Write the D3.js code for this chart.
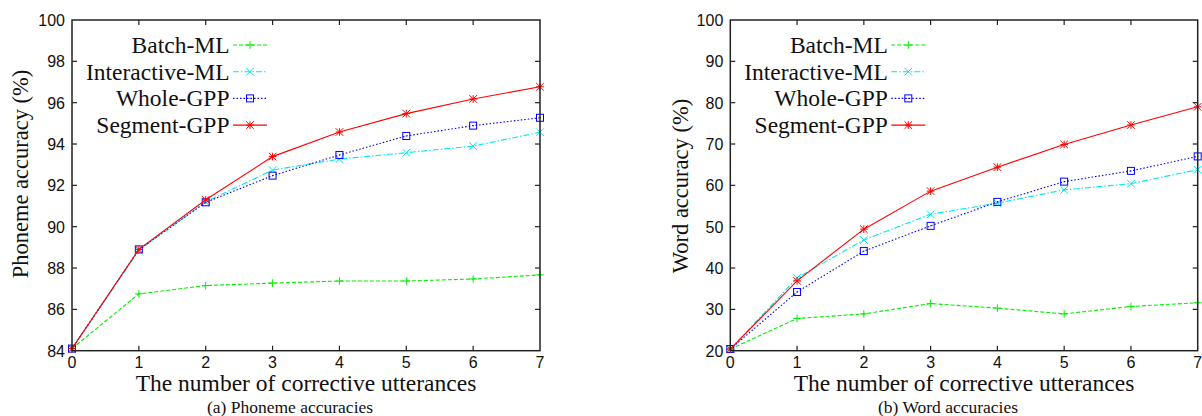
<!doctype html>
<html>
<head>
<meta charset="utf-8">
<script src="https://cdn.jsdelivr.net/npm/d3@7"></script>
<style>
  body { margin: 0; background: #fff; }
  svg { display: block; }
  .tick-label { font-family: "Liberation Sans", Arial, sans-serif; font-size: 16px; fill: #111; }
  .serif { font-family: "Liberation Serif", "Times New Roman", serif; fill: #111; }
</style>
</head>
<body>
<div id="container"></div>
<script>
// categories (number of corrective utterances)
var steps = [0, 1, 2, 3, 4, 5, 6, 7];
var seriesNames = ["Batch-ML", "Interactive-ML", "Whole-GPP", "Segment-GPP"];

// (a) phoneme accuracies
var phonemeBatch       = [84.1, 86.75, 87.15, 87.27, 87.37, 87.37, 87.47, 87.67];
var phonemeInteractive = [84.1, 88.85, 91.2, 92.74, 93.27, 93.58, 93.9, 94.57];
var phonemeWhole       = [84.1, 88.9, 91.18, 92.47, 93.47, 94.39, 94.89, 95.27];
var phonemeSegment     = [84.1, 88.9, 91.3, 93.39, 94.58, 95.47, 96.18, 96.77];
var phonemeTicks = [84, 86, 88, 90, 92, 94, 96, 98, 100];

// (b) word accuracies
var wordBatch       = [20.4, 27.8, 28.9, 31.4, 30.3, 28.9, 30.7, 31.6];
var wordInteractive = [20.4, 37.6, 46.8, 53.0, 55.7, 58.9, 60.4, 63.8];
var wordWhole       = [20.4, 34.2, 44.1, 50.2, 56.0, 60.9, 63.5, 67.0];
var wordSegment     = [20.4, 36.9, 49.4, 58.6, 64.4, 69.9, 74.6, 79.0];
var wordTicks = [20, 30, 40, 50, 60, 70, 80, 90, 100];

var colors  = ["#00ee00", "#00e8e8", "#0000ff", "#ff0000"];
var dashes  = ["4,2", "6,2,1.5,2", "1.5,2", null];
var markers = ["plus", "cross", "square", "star"];

var W = 1202, H = 416;
var svg = d3.select("#container").append("svg")
    .attr("width", W).attr("height", H);

function drawMarker(g, type, x, y, color) {
  var s = 3.8;
  var m = g.append("g").attr("transform", "translate(" + x + "," + y + ")")
      .attr("stroke", color).attr("stroke-width", 1).attr("fill", "none");
  if (type == "plus" || type == "star") {
    m.append("line").attr("x1", -s).attr("x2", s).attr("y1", 0).attr("y2", 0);
    m.append("line").attr("x1", 0).attr("x2", 0).attr("y1", -s).attr("y2", s);
  }
  if (type == "cross" || type == "star") {
    m.append("line").attr("x1", -s).attr("x2", s).attr("y1", -s).attr("y2", s);
    m.append("line").attr("x1", -s).attr("x2", s).attr("y1", s).attr("y2", -s);
  }
  if (type == "square") {
    m.append("rect").attr("x", -3.5).attr("y", -3.5).attr("width", 7).attr("height", 7);
    m.append("rect").attr("x", -0.5).attr("y", -0.5).attr("width", 1).attr("height", 1)
      .attr("fill", color).attr("stroke", "none");
  }
}

function panel(opt) {
  var x = d3.scaleLinear().domain([0, 7]).range([opt.left, opt.right]);
  var y = d3.scaleLinear().domain([opt.ticks[0], opt.ticks[opt.ticks.length - 1]])
      .range([opt.bottom, opt.top]);
  var g = svg.append("g");

  // axes with inward ticks, mirrored on top and right
  var tl = 5;
  var ax = g.append("g").attr("stroke", "#222").attr("stroke-width", 1.2);
  steps.forEach(function(s) {
    if (s == 0 || s == 7) return;
    ax.append("line").attr("x1", x(s)).attr("x2", x(s)).attr("y1", opt.bottom).attr("y2", opt.bottom - tl);
    ax.append("line").attr("x1", x(s)).attr("x2", x(s)).attr("y1", opt.top).attr("y2", opt.top + tl);
  });
  opt.ticks.forEach(function(t, i) {
    if (i == 0 || i == opt.ticks.length - 1) return;
    ax.append("line").attr("x1", opt.left).attr("x2", opt.left + tl).attr("y1", y(t)).attr("y2", y(t));
    ax.append("line").attr("x1", opt.right).attr("x2", opt.right - tl).attr("y1", y(t)).attr("y2", y(t));
  });

  g.selectAll("text.ylab").data(opt.ticks).enter().append("text")
    .attr("class", "tick-label")
    .attr("x", opt.left - 7).attr("y", function(d) { return y(d) + 6; })
    .attr("text-anchor", "end").text(function(d) { return d; });
  g.selectAll("text.xlab").data(steps).enter().append("text")
    .attr("class", "tick-label")
    .attr("x", function(d) { return x(d); }).attr("y", opt.bottom + 17)
    .attr("text-anchor", "middle").text(function(d) { return d; });

  // series, drawn in order so Segment-GPP ends on top
  var line = d3.line().x(function(d, i) { return x(steps[i]); }).y(function(d) { return y(d); });
  opt.series.forEach(function(vals, k) {
    g.append("path").datum(vals).attr("d", line)
      .attr("fill", "none").attr("stroke", colors[k]).attr("stroke-width", 1.1)
      .attr("stroke-dasharray", dashes[k]);
    vals.forEach(function(v, i) { drawMarker(g, markers[k], x(steps[i]), y(v), colors[k]); });
  });

  // legend
  seriesNames.forEach(function(name, k) {
    var ly = 45 + k * 26.7;
    g.append("text").attr("class", "serif").style("font-size", "23.5px")
      .attr("x", opt.left + 157.5).attr("y", ly + 8).attr("text-anchor", "end").text(name);
    g.append("line").attr("x1", opt.left + 161).attr("x2", opt.left + 195)
      .attr("y1", ly).attr("y2", ly).attr("stroke", colors[k]).attr("stroke-width", 1.1)
      .attr("stroke-dasharray", dashes[k]);
    drawMarker(g, markers[k], opt.left + 178, ly, colors[k]);
  });

  g.append("rect").attr("x", opt.left).attr("y", opt.top)
    .attr("width", opt.right - opt.left).attr("height", opt.bottom - opt.top)
    .attr("fill", "none").attr("stroke", "#222").attr("stroke-width", 1.5);

  g.append("text").attr("class", "serif").style("font-size", "23.5px")
    .attr("x", (opt.left + opt.right) / 2).attr("y", 391)
    .attr("text-anchor", "middle").text("The number of corrective utterances");
  g.append("text").attr("class", "serif").style("font-size", "22.5px")
    .attr("transform", "translate(" + opt.ytX + "," + opt.ytY + ") rotate(-90)")
    .attr("text-anchor", "middle").text(opt.yTitle);
  g.append("text").attr("class", "serif").style("font-size", "17.5px")
    .attr("x", opt.capX).attr("y", 413)
    .attr("text-anchor", "middle").text(opt.caption);
}

panel({
  left: 72, right: 540, top: 20, bottom: 350.7,
  ticks: phonemeTicks,
  series: [phonemeBatch, phonemeInteractive, phonemeWhole, phonemeSegment],
  yTitle: "Phoneme accuracy (%)", ytX: 28, ytY: 174,
  caption: "(a) Phoneme accuracies", capX: 290
});
panel({
  left: 730.3, right: 1197.7, top: 20, bottom: 350.7,
  ticks: wordTicks,
  series: [wordBatch, wordInteractive, wordWhole, wordSegment],
  yTitle: "Word accuracy (%)", ytX: 688, ytY: 186,
  caption: "(b) Word accuracies", capX: 948
});
</script>
</body>
</html>
